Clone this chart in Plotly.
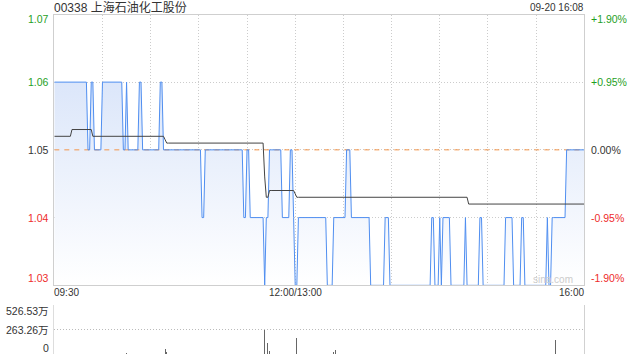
import plotly.graph_objects as go

# ---------------- data ----------------
title_text = "00338 上海石油化工股份"
date_text = "09-20 16:08"
prev_close = 1.05
pct_span = 0.019

# price: minute index (0 = 09:30, 150 = 12:00/13:00, 330 = 16:00) where a new price level starts
price_run_start = [0, 21, 23, 25, 30, 43, 45, 46, 53, 55, 66, 68, 92, 94, 118, 120, 122, 131, 132,
                   134, 142, 147, 149, 150, 152, 170, 174, 182, 185, 197, 206, 209, 235, 237, 240,
                   241, 242, 247, 256, 257, 265, 267, 281, 286, 291, 293, 307, 308, 310, 319]
price_run_value = [1.06, 1.05, 1.06, 1.05, 1.06, 1.05, 1.06, 1.05, 1.06, 1.05, 1.06, 1.05, 1.04, 1.05,
                   1.04, 1.05, 1.04, 1.03, 1.04, 1.05, 1.04, 1.05, 1.04, 1.03, 1.04, 1.03, 1.04, 1.05,
                   1.04, 1.03, 1.04, 1.03, 1.04, 1.03, 1.04, 1.03, 1.04, 1.03, 1.04, 1.03, 1.04, 1.03,
                   1.04, 1.03, 1.04, 1.03, 1.04, 1.03, 1.04, 1.05]

# average price line
avg_run_start = [0, 11, 24, 69, 70, 131, 132, 134, 150, 151, 258]
avg_run_value = [1.052, 1.053, 1.052, 1.0515, 1.051, 1.046, 1.043, 1.044, 1.0435, 1.043, 1.042]

# volume (万) at notable minutes
vol_minute = [45, 69, 70, 131, 133, 134, 148, 151, 174, 175, 186, 312, 330]
vol_value = [18, 57, 22, 258, 124, 38, 38, 177, 20, 46, 8, 153, 526.53]

last_minute = 330
grid_minutes = [0, 30, 60, 90, 120, 150, 180, 210, 240, 270, 300, 330]
time_labels = ["09:30", "12:00/13:00", "16:00"]
time_label_minute = [0, 150, 330]

price_ticks = [1.07, 1.06, 1.05, 1.04, 1.03]
price_tick_text = ["1.07", "1.06", "1.05", "1.04", "1.03"]
pct_tick_text = ["+1.90%", "+0.95%", "0.00%", "-0.95%", "-1.90%"]
vol_ticks = [526.53, 263.26, 0]
vol_tick_text = ["526.53万", "263.26万", "0"]


def expand(starts, values, n):
    out = []
    j = 0
    for m in range(n + 1):
        while j + 1 < len(starts) and starts[j + 1] <= m:
            j += 1
        out.append(values[j])
    return out


minutes = list(range(last_minute + 1))
price = expand(price_run_start, price_run_value, last_minute)
avg = expand(avg_run_start, avg_run_value, last_minute)

# ---------------- layout geometry ----------------
W, H = 640, 360
px0, px1 = 54.3, 584.3
main_top, main_bot = 14.7, 285.0
vol_top, vol_bot = 305.0, 354.3


def py(p):
    return 1 - p / H


FONT = "Liberation Sans, Arial, Noto Sans CJK SC, sans-serif"
GREEN = "#1f9f1f"
RED = "#ee2b2b"
DARK = "#333333"
colors = [GREEN, GREEN, DARK, RED, RED]

ylo = prev_close * (1 - pct_span)
yhi = prev_close * (1 + pct_span)
vmax = max(vol_value)


def price_py(v):
    pix = main_bot - (v - ylo) / (yhi - ylo) * (main_bot - main_top)
    return py(pix)


def vol_py(v):
    pix = vol_bot - v / vmax * (vol_bot - vol_top)
    return py(pix)


fig = go.Figure()

fig.add_trace(go.Scatter(
    x=minutes, y=price, mode="lines", line=dict(width=0, color="rgba(0,0,0,0)"),
    fill="tozeroy",
    fillgradient=dict(type="vertical",
                      colorscale=[[0, "rgba(255,255,255,1)"], [1, "rgb(208,222,248)"]],
                      start=ylo, stop=yhi),
    xaxis="x", yaxis="y", hoverinfo="skip", showlegend=False))

fig.add_trace(go.Scatter(
    x=[0, last_minute], y=[prev_close, prev_close], mode="lines",
    line=dict(color="#f39548", width=1, dash="5px,5px"),
    xaxis="x", yaxis="y", hoverinfo="skip", showlegend=False))

fig.add_trace(go.Scatter(
    x=minutes, y=price, mode="lines", line=dict(color="#4f8ef0", width=1),
    xaxis="x", yaxis="y", showlegend=False))

fig.add_trace(go.Scatter(
    x=minutes, y=avg, mode="lines", line=dict(color="#444444", width=1),
    xaxis="x", yaxis="y", showlegend=False))

fig.add_trace(go.Bar(
    x=vol_minute, y=vol_value, width=0.6, marker=dict(color="#666666", line=dict(width=0)),
    cliponaxis=False, xaxis="x2", yaxis="y2", showlegend=False))

dom_x = [px0 / W, px1 / W]
grid_col = "#cccccc"

annotations = []
annotations.append(dict(text=title_text, x=px0 / W, y=py(7), xref="paper", yref="paper",
                        xanchor="left", yanchor="middle", showarrow=False,
                        font=dict(size=12, color=DARK, family=FONT), xshift=-2))
annotations.append(dict(text=date_text, x=px1 / W, y=py(7), xref="paper", yref="paper",
                        xanchor="right", yanchor="middle", showarrow=False,
                        font=dict(size=10, color=DARK, family=FONT), xshift=2))

shifts = [-5, 0, 0, 0, 7]
for v, t, pt, c, s in zip(price_ticks, price_tick_text, pct_tick_text, colors, shifts):
    annotations.append(dict(text=t, x=51 / W, y=price_py(v), xref="paper", yref="paper",
                            xanchor="right", yanchor="middle", showarrow=False, yshift=s,
                            font=dict(size=10.5, color=c, family=FONT)))
    annotations.append(dict(text=pt, x=588.5 / W, y=price_py(v), xref="paper", yref="paper",
                            xanchor="left", yanchor="middle", showarrow=False, yshift=s,
                            font=dict(size=10.5, color=c, family=FONT)))

vshifts = [-6, 0, 6]
for v, t, s in zip(vol_ticks, vol_tick_text, vshifts):
    annotations.append(dict(text=t, x=51 / W, y=vol_py(v), xref="paper", yref="paper",
                            xanchor="right", yanchor="middle", showarrow=False, yshift=s,
                            font=dict(size=10.5, color=DARK, family=FONT)))

anchors = ["left", "center", "right"]
xsh = [-2, 0, 2]
for t, m, a, s in zip(time_labels, time_label_minute, anchors, xsh):
    annotations.append(dict(text=t, x=(px0 + m / last_minute * (px1 - px0)) / W, y=py(292.5),
                            xref="paper", yref="paper",
                            xanchor=a, yanchor="middle", showarrow=False, xshift=s,
                            font=dict(size=10, color=DARK, family=FONT)))

annotations.append(dict(text="sina.com", x=553 / W, y=py(279), xref="paper", yref="paper",
                        xanchor="center", yanchor="middle", showarrow=False,
                        font=dict(size=10, color="#cccccc", family=FONT)))

fig.update_layout(
    width=W, height=H, autosize=False,
    margin=dict(l=0, r=0, t=0, b=0),
    paper_bgcolor="white", plot_bgcolor="rgba(0,0,0,0)",
    showlegend=False, bargap=0,
    xaxis=dict(domain=dom_x, range=[0, last_minute], tickvals=grid_minutes,
               showticklabels=False, ticks="", showgrid=True, gridcolor=grid_col,
               griddash="1px,2px", gridwidth=1, zeroline=False,
               showline=True, linecolor="#cfcfcf", linewidth=1, mirror=True, anchor="y"),
    yaxis=dict(domain=[py(main_bot), py(main_top)], range=[ylo, yhi],
               tickvals=[1.06, 1.05, 1.04], showticklabels=False, ticks="",
               showgrid=True, gridcolor=grid_col, griddash="1px,2px", zeroline=False,
               showline=True, linecolor="#cfcfcf", linewidth=1, mirror=True, anchor="x"),
    xaxis2=dict(domain=dom_x, range=[0, last_minute], showticklabels=False, ticks="",
                showgrid=False, zeroline=False, showline=False, anchor="y2"),
    yaxis2=dict(domain=[py(vol_bot), py(vol_top)], range=[0, vmax],
                tickvals=vol_ticks, showticklabels=False, ticks="",
                showgrid=True, gridcolor="#bbbbbb", griddash="1px,2px", zeroline=False,
                showline=True, linecolor="#dddddd", linewidth=1, anchor="x2"),
    annotations=annotations,
    font=dict(family=FONT),
)

fig.write_html("out.html", config={"displayModeBar": False, "staticPlot": True})
